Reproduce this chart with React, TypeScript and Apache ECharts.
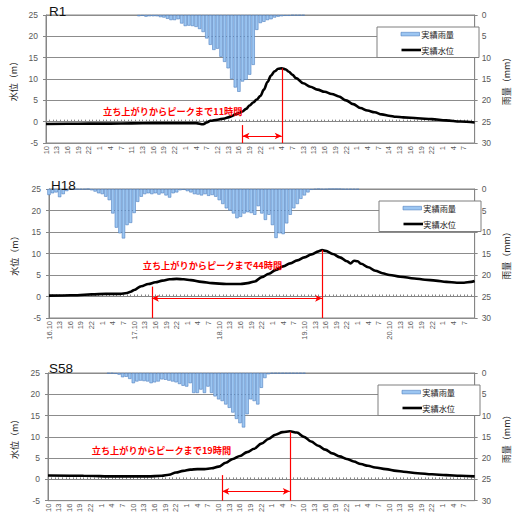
import React, { useEffect, useRef } from "react";
import * as echarts from "echarts";

const FONT = "'Liberation Sans', Arial, 'Noto Sans CJK JP', sans-serif";
const CJK = "'Noto Sans CJK JP', 'Liberation Sans', sans-serif";

// hour of day for each offset from the 10 o'clock start
const hourCycle = ["10","11","12","13","14","15","16","17","18","19","20","21","22","23","0","1","2","3","4","5","6","7","8","9"];
const r1DayLabels = ["10", "11", "12", "13", "14", "15"];
const h18DayLabels = ["16.10", "17.10", "18.10", "19.10", "20.10", "21.10"];
const s58DayLabels = ["10", "10", "10", "10", "10", "10"];

const panelTitles = ["R1", "H18", "S58"];
const rainName = "実績雨量";
const levelName = "実績水位";
const noteTexts = [
  "立ち上がりからピークまで11時間",
  "立ち上がりからピークまで44時間",
  "立ち上がりからピークまで19時間",
];

// rainfall (mm), hourly, beginning at the given hour offset
const r1RainStart = 26;
const r1Rain = [0.3,0.2,0.4,0.3,0.3,0.3,0.5,0.6,0.9,1.2,1.2,1.0,2.0,2.6,2.5,2.6,2.8,3.3,4.0,5.5,7.0,8.2,7.9,9.8,11.0,12.5,15.0,17.0,18.0,15.6,15.2,14.0,11.7,3.5,1.9,1.6,1.2,1.0,0.6,0.4,0.3,0.2,0.2,0.1,0.1,0.1,0.1];

const h18RainStart = 0;
const h18Rain = [1.4,1.0,0.8,1.9,1.2,0.5,0.1,0.1,0.1,0.1,0.1,0,
  0.3,0.6,1.0,1.2,1.8,2.6,5.7,9.0,10.3,11.5,8.4,7.9,5.6,3.0,1.8,1.2,1.0,1.2,1.0,1.3,1.0,1.5,2.0,1.0,0.8,0.3,0.2,0.5,0.8,1.2,
  1.3,1.5,1.2,1.6,1.4,1.8,2.6,3.5,4.5,5.0,5.7,6.8,6.5,5.7,5.4,5.6,6.0,4.0,5.7,7.2,6.0,8.4,11.4,10.3,10.5,8.0,6.0,4.5,3.5,2.3,1.5,0.8,0.2,0.1,
  0,0.1,0.1,0,0,0,0,0.1,0.1,0.1,0.1,0.1];

const s58RainStart = 17;
const s58Rain = [0.1,0.1,0.2,0.4,1.0,0.9,1.4,2.4,2.0,1.8,1.9,2.0,2.4,2.2,2.0,1.5,1.6,1.8,2.0,2.2,2.6,3.0,3.2,2.4,4.7,4.7,3.9,4.7,3.2,4.7,5.5,6.2,6.6,7.4,8.2,9.3,10.8,11.8,12.8,9.7,6.2,6.6,7.4,3.5,1.2,0.3,0.1,0.1,0.1,0.1,0.1,0.1,0.1,0.1,0.1,0.1];

// water level (m): [hour offset, level]
const r1Level = [[0,-0.55],[6,-0.5],[12,-0.45],[18,-0.45],[24,-0.4],[30,-0.35],[36,-0.35],[42,-0.35],[44,-0.6],[45,-0.2],[46,0.2],[48,0.45],[50,0.75],[51,1.0],[52,1.3],[53,1.7],[54,2.0],[55,2.4],[56,3.0],[57,3.8],[58,4.5],[59,5.2],[60,6.0],[61,7.5],[62,9.3],[63,10.8],[64,11.8],[65,12.4],[66,12.5],[67,12.3],[68,11.7],[69,11.0],[70,10.2],[72,9.0],[74,8.2],[76,7.5],[78,7.0],[80,6.5],[82,5.9],[84,5.0],[86,4.1],[88,3.2],[90,2.6],[92,2.2],[94,1.7],[96,1.4],[98,1.15],[100,1.0],[104,0.8],[108,0.6],[112,0.3],[116,0.05],[120,-0.2]];

const h18Level = [[0,0.2],[4,0.25],[8,0.3],[12,0.5],[16,0.6],[20,0.6],[22,0.8],[23,1.1],[24,1.5],[26,2.4],[28,2.9],[30,3.3],[32,3.7],[34,4.0],[36,4.1],[38,4.0],[40,3.8],[43,3.4],[46,3.1],[50,2.9],[54,2.9],[56,3.1],[58,3.5],[60,4.5],[62,5.3],[64,6.2],[66,7.0],[68,7.7],[70,8.4],[72,9.1],[74,9.8],[76,10.5],[77,10.8],[78,10.6],[80,9.9],[82,9.1],[84,8.2],[85,7.7],[86,8.3],[87,8.2],[88,7.6],[90,6.8],[92,6.0],[94,5.4],[96,5.0],[99,4.6],[103,4.2],[106,3.9],[109,3.7],[112,3.4],[115,3.2],[117,3.2],[119,3.4],[120,3.6]];

const s58Level = [[0,0.9],[10,0.85],[19,0.7],[28,0.7],[32,0.85],[34,1.1],[36,1.6],[38,2.0],[40,2.3],[42,2.4],[44,2.4],[46,2.6],[48,3.0],[50,3.9],[52,4.8],[54,5.5],[56,6.4],[58,7.2],[60,8.4],[62,9.5],[64,10.5],[66,11.1],[68,11.3],[70,11.0],[72,10.0],[74,8.9],[76,7.9],[78,7.0],[80,6.1],[82,5.4],[84,4.8],[86,4.2],[88,3.6],[90,3.2],[92,2.8],[95,2.4],[98,2.0],[100,1.8],[104,1.45],[108,1.2],[112,1.0],[116,0.85],[120,0.7]];

// annotation: rise hour, peak hour, top of rise line, peak level, arrow level
const riseHours = [55, 29, 49];
const peakHours = [66, 77, 68];
const riseTops = [-0.8, 2.3, 1.0];
const peakLevels = [12.5, 10.8, 11.2];
const arrowLevels = [-3.35, -0.42, -2.8];

function buildCats(days: string[]) {
  const out: string[] = [];
  for (let h = 0; h <= 120; h++) {
    const t = h % 24;
    out.push(t === 0 ? days[Math.floor(h / 24)] : hourCycle[t]);
  }
  return out;
}

const layout = [
  { grid: { left: 46, top: 15, width: 436, height: 128 }, note: [103, 110.5], title: [49, 5], nameGapL: 27, nameGapR: 26 },
  { grid: { left: 49, top: 189, width: 435, height: 129 }, note: [142.7, 265], title: [51, 179], nameGapL: 30, nameGapR: 27 },
  { grid: { left: 48, top: 373, width: 435, height: 130 }, note: [91.7, 450], title: [49, 362], nameGapL: 29, nameGapR: 27 },
];

const BAR_FILL = "#9cc6f2";
const BAR_EDGE = "#4f7fbf";
const GRID_C = "#8c8c8c";
const LABEL_C = "#595959";

function buildOption() {
  const dayLabels = [r1DayLabels, h18DayLabels, s58DayLabels];
  const rains = [r1Rain, h18Rain, s58Rain];
  const rainStarts = [r1RainStart, h18RainStart, s58RainStart];
  const levels = [r1Level, h18Level, s58Level];

  const grids: any[] = [];
  const xAxes: any[] = [];
  const yAxes: any[] = [];
  const series: any[] = [];
  const titles: any[] = [];
  const graphics: any[] = [];

  for (let i = 0; i < 3; i++) {
    const L = layout[i];
    const g = L.grid;
    grids.push({ ...g, show: true, borderColor: "#868686", borderWidth: 1, backgroundColor: "transparent" });
    xAxes.push({
      type: "category",
      gridIndex: i,
      data: buildCats(dayLabels[i]),
      boundaryGap: false,
      axisLine: { show: true, lineStyle: { color: "#868686", width: 1 } },
      axisTick: { show: true, interval: 0, inside: true, length: 2, lineStyle: { color: "#868686" } },
      axisLabel: { interval: 2, rotate: 90, fontSize: 7.5, color: LABEL_C, margin: 3, fontFamily: FONT, showMaxLabel: false },
      splitLine: { show: false },
    });
    yAxes.push({
      type: "value",
      gridIndex: i,
      position: "left",
      min: -5,
      max: 25,
      interval: 5,
      name: "水位（m）",
      nameLocation: "middle",
      nameRotate: 90,
      nameGap: L.nameGapL,
      nameTextStyle: { fontSize: 9, color: "#222", fontFamily: CJK },
      axisLine: { show: true, lineStyle: { color: "#868686" } },
      axisTick: { show: true, length: 3, lineStyle: { color: "#868686" } },
      axisLabel: { fontSize: 8.5, color: LABEL_C, margin: 8, fontFamily: FONT },
      splitLine: { show: true, lineStyle: { color: GRID_C, width: 1 } },
    });
    yAxes.push({
      type: "value",
      gridIndex: i,
      position: "right",
      min: 0,
      max: 30,
      interval: 5,
      inverse: true,
      name: "雨量（mm）",
      nameLocation: "middle",
      nameRotate: 90,
      nameGap: L.nameGapR,
      nameTextStyle: { fontSize: 9, color: "#222", fontFamily: CJK },
      axisLine: { show: true, lineStyle: { color: "#868686" } },
      axisTick: { show: true, length: 3, lineStyle: { color: "#868686" } },
      axisLabel: { fontSize: 8.5, color: LABEL_C, margin: 7, fontFamily: FONT },
      splitLine: { show: false },
    });

    series.push({
      type: "bar",
      name: rainName,
      xAxisIndex: i,
      yAxisIndex: 2 * i + 1,
      data: rains[i].map((v, j) => [rainStarts[i] + j, v]),
      barCategoryGap: "6%",
      itemStyle: { color: BAR_FILL, borderColor: BAR_EDGE, borderWidth: 0.6 },
      emphasis: { disabled: true },
      z: 1,
    });
    series.push({
      type: "line",
      name: levelName,
      xAxisIndex: i,
      yAxisIndex: 2 * i,
      data: levels[i],
      smooth: 0.35,
      smoothMonotone: "x",
      showSymbol: false,
      symbol: "none",
      lineStyle: { color: "#000", width: 2.6 },
      emphasis: { disabled: true },
      z: 3,
      markLine: {
        silent: true,
        symbol: "none",
        label: { show: false },
        emphasis: { disabled: true },
        lineStyle: { color: "#ff0000", width: 1.2, type: "solid" },
        data: [
          [{ coord: [riseHours[i], riseTops[i]] }, { coord: [riseHours[i], -5] }],
          [{ coord: [peakHours[i], peakLevels[i]] }, { coord: [peakHours[i], -5] }],
          [
            { coord: [riseHours[i], arrowLevels[i]], symbol: "arrow", symbolSize: [5, 7] },
            { coord: [peakHours[i], arrowLevels[i]], symbol: "arrow", symbolSize: [5, 7] },
          ],
        ],
      },
    });

    titles.push({
      text: panelTitles[i],
      left: L.title[0],
      top: L.title[1],
      padding: 0,
      textStyle: { fontSize: 13.5, fontWeight: "normal", color: "#111", fontFamily: FONT },
    });

    // annotation text
    graphics.push({
      type: "text",
      x: L.note[0],
      y: L.note[1],
      z: 100,
      style: {
        text: noteTexts[i],
        fill: "#ff0000",
        fontSize: 9.2,
        fontWeight: "bold",
        fontFamily: CJK,
        align: "left",
        verticalAlign: "middle",
      },
    });

    // legend box
    const bx = g.left + g.width - 105;
    const by = g.top + 12;
    graphics.push({
      type: "rect",
      z: 100,
      shape: { x: bx, y: by, width: 102, height: 30.5 },
      style: { fill: "#fff", stroke: "#7f7f7f", lineWidth: 1 },
    });
    graphics.push({
      type: "rect",
      z: 101,
      shape: { x: bx + 24, y: by + 5.3, width: 18.5, height: 3.6 },
      style: { fill: BAR_FILL, stroke: BAR_EDGE, lineWidth: 0.6 },
    });
    graphics.push({
      type: "text",
      z: 101,
      x: bx + 44.3,
      y: by + 7.2,
      style: { text: rainName, fill: "#1a1a1a", fontSize: 8.2, fontFamily: CJK, align: "left", verticalAlign: "middle" },
    });
    graphics.push({
      type: "line",
      z: 101,
      shape: { x1: bx + 24.5, y1: by + 23, x2: bx + 44, y2: by + 23 },
      style: { stroke: "#000", lineWidth: 2.6 },
    });
    graphics.push({
      type: "text",
      z: 101,
      x: bx + 44.3,
      y: by + 23,
      style: { text: levelName, fill: "#1a1a1a", fontSize: 8.2, fontFamily: CJK, align: "left", verticalAlign: "middle" },
    });
  }

  return {
    animation: false,
    backgroundColor: "#ffffff",
    textStyle: { fontFamily: FONT },
    title: titles,
    grid: grids,
    xAxis: xAxes,
    yAxis: yAxes,
    series,
    graphic: { elements: graphics },
  };
}

export default function App() {
  const ref = useRef<HTMLDivElement>(null);
  useEffect(() => {
    const el = ref.current;
    if (!el) return;
    const chart = echarts.init(el, undefined, { renderer: "svg" });
    chart.setOption(buildOption() as any);
    return () => {
      chart.dispose();
    };
  }, []);
  return (
    <div
      ref={ref}
      style={{ position: "fixed", left: 0, top: 0, width: 519, height: 515, background: "#fff", overflow: "hidden" }}
    />
  );
}
